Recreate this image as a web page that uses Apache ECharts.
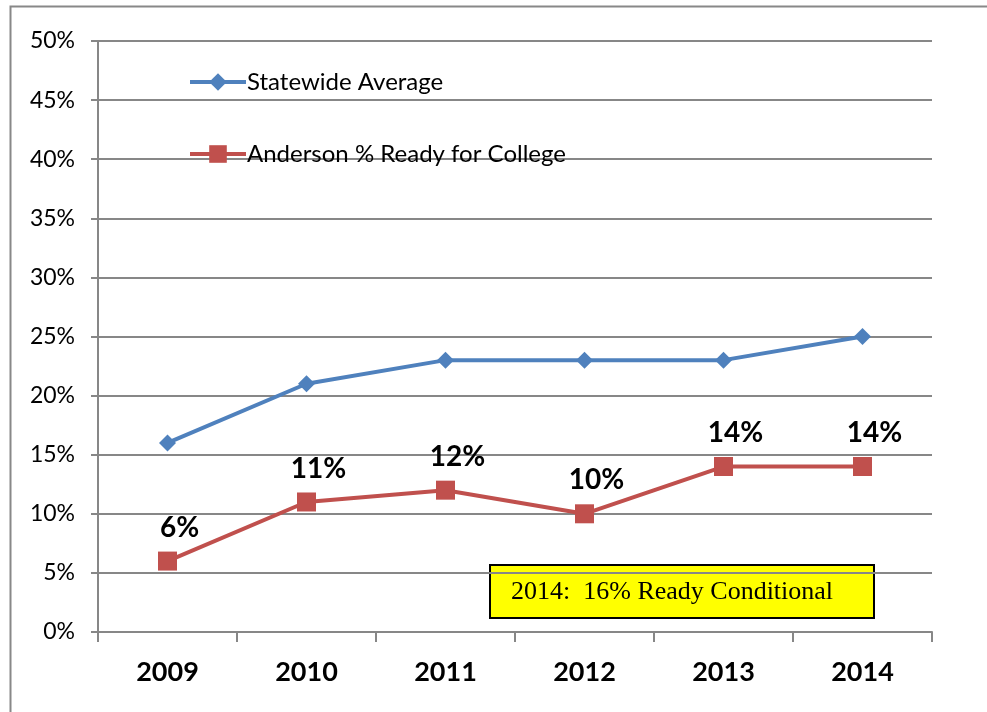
<!DOCTYPE html>
<html>
<head>
<meta charset="utf-8">
<script src="https://cdn.jsdelivr.net/npm/echarts@6/dist/echarts.min.js"></script>
<style>
    html, body { margin: 0; padding: 0; background: #fff; }
    #chart { width: 987px; height: 712px; }
</style>
</head>
<body>
<div id="chart"></div>
<script>
    // Chart data
    let years = ['2009', '2010', '2011', '2012', '2013', '2014'];
    let statewide = [16, 21, 23, 23, 23, 25];
    let anderson = [6, 11, 12, 10, 14, 14];
    let noteText = '2014:  16% Ready Conditional';

    let chartElem = document.getElementById('chart');
    let chart = echarts.init(chartElem);
    chart.setOption({
        animation: false,
        textStyle: { fontFamily: 'Lato, "Open Sans", sans-serif' },
        grid: {
            left: 98,
            right: 55,
            top: 41,
            bottom: 80
        },
        legend: {
            orient: 'vertical',
            left: 188,
            top: 68,
            padding: 0,
            itemWidth: 56,
            itemHeight: 22,
            itemGap: 44,
            lineStyle: { width: 4 },
            textStyle: { fontSize: 24, lineHeight: 28, color: '#000', padding: [0, 0, 0, -4] },
            data: ['Statewide Average', 'Anderson % Ready for College']
        },
        xAxis: [{
            type: 'category',
            data: years,
            boundaryGap: true,
            axisLine: { show: true, lineStyle: { color: '#878787', width: 2 } },
            axisTick: { show: true, length: 10, lineStyle: { color: '#878787', width: 2 } },
            axisLabel: { color: '#000', fontSize: 27, fontWeight: 'bold', margin: 27 },
            splitLine: { show: false }
        }],
        yAxis: [{
            type: 'value',
            min: 0,
            max: 50,
            interval: 5,
            axisLine: { show: true, lineStyle: { color: '#878787', width: 2 } },
            axisTick: { show: true, length: 7, lineStyle: { color: '#878787', width: 2 } },
            axisLabel: { formatter: '{value}%', color: '#000', fontSize: 23, margin: 23 },
            splitLine: { show: true, lineStyle: { color: '#878787', width: 2 } }
        }],
        series: [{
            name: 'Statewide Average',
            type: 'line',
            data: statewide,
            symbol: 'diamond',
            symbolSize: 17,
            color: '#4F81BD',
            lineStyle: { color: '#4F81BD', width: 4 },
            itemStyle: { color: '#4F81BD' },
            z: 3
        }, {
            name: 'Anderson % Ready for College',
            type: 'line',
            data: anderson,
            symbol: 'rect',
            symbolSize: 19,
            color: '#C0504D',
            lineStyle: { color: '#C0504D', width: 4 },
            itemStyle: { color: '#C0504D' },
            label: {
                show: true,
                position: 'top',
                distance: 6,
                offset: [12, -4],
                formatter: '{c}%',
                color: '#000',
                fontSize: 28,
                fontWeight: 'bold'
            },
            z: 4
        }],
        graphic: [{
            type: 'rect',
            left: 8,
            top: 4,
            shape: { width: 1000, height: 800 },
            style: { fill: 'none', stroke: '#888', lineWidth: 2 },
            silent: true
        }, {
            type: 'group',
            left: 489,
            top: 564,
            z: 10,
            children: [{
                type: 'rect',
                shape: { width: 384, height: 53 },
                style: { fill: '#FFFF00', stroke: '#000', lineWidth: 2 }
            }, {
                type: 'text',
                left: 21,
                top: 14,
                style: {
                    text: noteText,
                    fontFamily: '"Liberation Serif", serif',
                    fontSize: 26,
                    fill: '#000'
                }
            }]
        }]
    });
</script>
</body>
</html>
